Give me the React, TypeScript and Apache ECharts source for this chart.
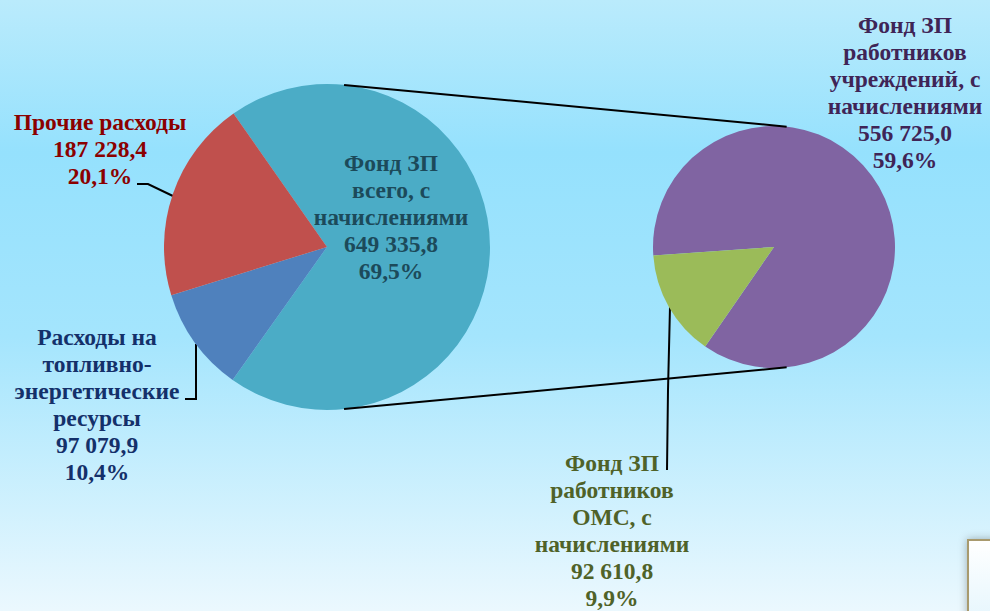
import React, { useEffect, useRef } from "react";
import * as echarts from "echarts";

// ---- data ----
const mainNames = [
  "Фонд ЗП\nвсего, с\nначислениями",
  "Расходы на\nтопливно-\nэнергетические\nресурсы",
  "Прочие расходы",
];
const mainValues = [649335.8, 97079.9, 187228.4];
const mainColors = ["#4BACC6", "#4F81BD", "#C0504D"];
const mainLabelColors = ["#1C4A5A", "#14306A", "#8B0000"];

const subNames = [
  "Фонд ЗП\nработников\nучреждений, с\nначислениями",
  "Фонд ЗП\nработников\nОМС, с\nначислениями",
];
const subValues = [556725.0, 92610.8];
const subColors = ["#8064A2", "#9BBB59"];
const subLabelColors = ["#3F2456", "#4F6228"];

// ---- layout ----
const W = 990;
const H = 611;
const L = { cx: 327, cy: 247, r: 163 };
const R = { cx: 774, cy: 247, r: 121 };
const FONT = "'Liberation Serif', 'Times New Roman', serif";

const total = mainValues.reduce((a, b) => a + b, 0);

function fmtNum(v: number) {
  const [i, d] = v.toFixed(1).split(".");
  return i.replace(/\B(?=(\d{3})+(?!\d))/g, " ") + "," + d;
}
function fmtPct(v: number) {
  return ((v / total) * 100).toFixed(1).replace(".", ",") + "%";
}

// label anchor positions (center x, top y) and leader lines
const mainLabelPos = [
  { x: 391, y: 149, line: null as null | number[][] },
  { x: 97, y: 323, line: [[196, 344], [196, 399], [185, 399]] },
  { x: 100, y: 108, line: [[175, 197], [148, 184], [137, 184]] },
];
const subLabelPos = [
  { x: 905, y: 11, line: null as null | number[][] },
  { x: 612, y: 449, line: [[670, 307], [668, 390], [667, 470]] },
];

function pt(c: { cx: number; cy: number; r: number }, deg: number) {
  const a = (deg * Math.PI) / 180;
  return [c.cx + c.r * Math.cos(a), c.cy - c.r * Math.sin(a)];
}

export default function App() {
  const ref = useRef<HTMLDivElement>(null);
  useEffect(() => {
    if (!ref.current) return;
    const chart = echarts.init(ref.current, undefined, { renderer: "svg" });

    const mkLabel = (color: string) => ({
      color,
      fontFamily: FONT,
      fontWeight: "bold" as const,
      fontSize: 23.5,
      lineHeight: 27,
      align: "center" as const,
    });

    const tA = pt(L, 84), tB = pt(R, 84);
    const bA = pt(L, -84), bB = pt(R, -84);

    chart.setOption({
      animation: false,
      backgroundColor: {
        type: "linear",
        x: 0, y: 0, x2: 0, y2: 1,
        colorStops: [
          { offset: 0, color: "#BAEBFC" },
          { offset: 0.25, color: "#95E1FD" },
          { offset: 0.55, color: "#A4E5FD" },
          { offset: 1, color: "#EBF8FE" },
        ],
      },
      graphic: [
        { type: "line", shape: { x1: tA[0], y1: tA[1], x2: tB[0], y2: tB[1] }, style: { stroke: "#000", lineWidth: 2 }, z: 10 },
        { type: "line", shape: { x1: bA[0], y1: bA[1], x2: bB[0], y2: bB[1] }, style: { stroke: "#000", lineWidth: 2 }, z: 10 },
        {
          type: "rect",
          shape: { x: 968, y: 540, width: 40, height: 90 },
          style: {
            fill: { type: "linear", x: 0, y: 0, x2: 0, y2: 1, colorStops: [{ offset: 0, color: "#FFFFFF" }, { offset: 1, color: "#E3F5FD" }] },
            stroke: "#A89A6E",
            lineWidth: 2,
            shadowBlur: 8,
            shadowColor: "rgba(0,0,0,0.3)",
          },
          z: 20,
        },
      ],
      series: [
        {
          type: "pie",
          center: [L.cx, L.cy],
          radius: L.r,
          startAngle: 125,
          silent: true,
          avoidLabelOverlap: false,
          label: { show: true, position: "outside" },
          labelLine: { show: true, length: 10, length2: 10, lineStyle: { color: "#000", width: 2 } },
          labelLayout: (p: any) => {
            const lp = mainLabelPos[p.dataIndex];
            const o: any = { x: lp.x, y: lp.y, align: "center", verticalAlign: "top" };
            if (lp.line) o.labelLinePoints = lp.line;
            return o;
          },
          data: mainValues.map((v, i) => ({
            value: v,
            name: mainNames[i],
            itemStyle: { color: mainColors[i] },
            label: {
              ...mkLabel(mainLabelColors[i]),
              formatter: `${mainNames[i]}\n${fmtNum(v)}\n${fmtPct(v)}`,
            },
            labelLine: { show: !!mainLabelPos[i].line },
          })),
        },
        {
          type: "pie",
          center: [R.cx, R.cy],
          radius: R.r,
          startAngle: 184,
          silent: true,
          avoidLabelOverlap: false,
          label: { show: true, position: "outside" },
          labelLine: { show: true, length: 10, length2: 10, lineStyle: { color: "#000", width: 2 } },
          labelLayout: (p: any) => {
            const lp = subLabelPos[p.dataIndex];
            const o: any = { x: lp.x, y: lp.y, align: "center", verticalAlign: "top" };
            if (lp.line) o.labelLinePoints = lp.line;
            return o;
          },
          data: subValues.map((v, i) => ({
            value: v,
            name: subNames[i],
            itemStyle: { color: subColors[i] },
            label: {
              ...mkLabel(subLabelColors[i]),
              formatter: `${subNames[i]}\n${fmtNum(v)}\n${fmtPct(v)}`,
            },
            labelLine: { show: !!subLabelPos[i].line },
          })),
        },
      ],
    });
    return () => chart.dispose();
  }, []);
  return (
    <div
      ref={ref}
      style={{ position: "fixed", left: 0, top: 0, width: W, height: H }}
    />
  );
}
